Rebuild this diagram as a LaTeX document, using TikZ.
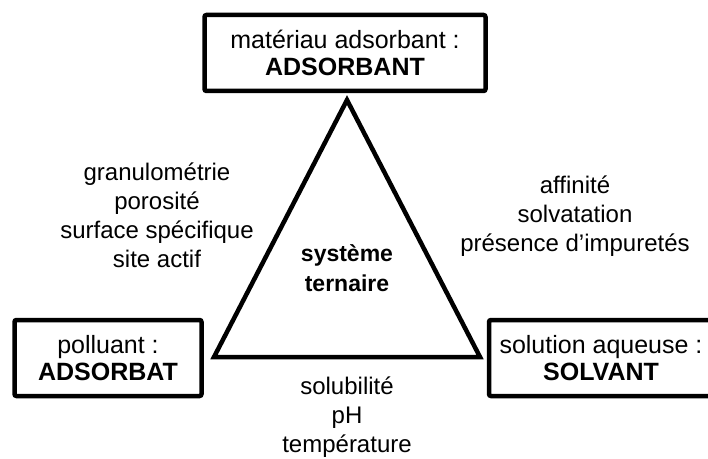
\documentclass[tikz,border=0pt]{standalone}
\usepackage{fontspec}
\setmainfont{Liberation Sans}
\usepackage{tikz}
\usetikzlibrary{positioning}
\tikzset{
  rolebox/.style={rectangle, rounded corners=2pt, draw=black, line width=4.5pt, minimum height=76pt, align=center, font=\fontsize{25}{27}\selectfont},
  factortext/.style={align=center, font=\fontsize{24}{29}\selectfont},
  centertext/.style={align=center, font=\fontsize{23}{30}\selectfont\bfseries}
}
\begin{document}
\begin{tikzpicture}[x=1pt, y=1pt]
  \useasboundingbox (0,0) rectangle (708,458);
  \begin{scope}
  \clip (0,0) rectangle (708,458);
  % triangle
  \coordinate (apex) at (347,358);
  \coordinate (baseL) at (214,101);
  \coordinate (baseR) at (480,101);
  \draw[line width=4.5pt, line join=miter] (apex) -- (baseL) -- (baseR) -- cycle;
  \node[centertext] (system) at (347,190) {système\\ternaire};

  % the three poles
  \node[rolebox, minimum width=281pt] (adsorbant) at (345,405) {matériau adsorbant :\\\textbf{ADSORBANT}};
  \node[rolebox, minimum width=187pt] (adsorbat) at (108,100) {polluant :\\\textbf{ADSORBAT}};
  \node[rolebox, minimum width=224pt] (solvant) at (601,100) {solution aqueuse :\\\textbf{SOLVANT}};
  \end{scope}

  % factors
  \node[factortext] (solidside) at (157,243) {granulométrie\\porosité\\surface spécifique\\site actif};
  \node[factortext] (liquidside) at (575,242) {affinité\\solvatation\\présence d’impuretés};
  \node[factortext] (baseside) at (347,41) {solubilité\\pH\\température};
\end{tikzpicture}
\end{document}
